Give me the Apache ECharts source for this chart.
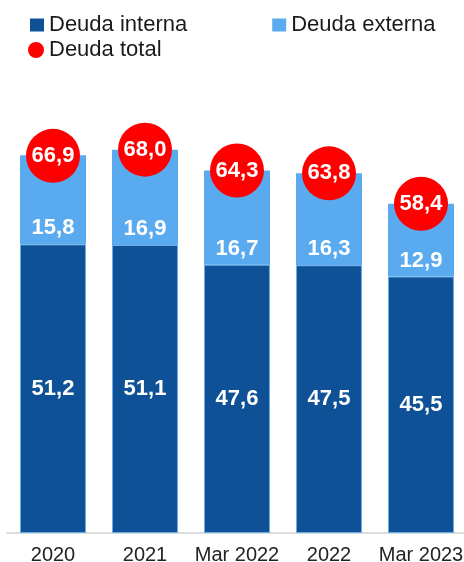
<!DOCTYPE html>
<html>
<head>
<meta charset="utf-8">
<script src="https://cdn.jsdelivr.net/npm/echarts@6/dist/echarts.min.js"></script>
<style>
  html, body { margin: 0; padding: 0; background: #fff; }
  #chart { width: 464px; height: 562px; }
</style>
</head>
<body>
<div id="chart"></div>
<script>
// Debt composition by period (stacked), with total on top
const categories = ['2020', '2021', 'Mar 2022', '2022', 'Mar 2023'];
const deudaInterna = [51.2, 51.1, 47.6, 47.5, 45.5];
const deudaExterna = [15.8, 16.9, 16.7, 16.3, 12.9];
const deudaTotal = [66.9, 68.0, 64.3, 63.8, 58.4];

const FONT = '"Liberation Sans", Arial, sans-serif';
const fmt = p => Number(p.value).toFixed(1).replace('.', ',');

const chart = echarts.init(document.getElementById('chart'), null, { renderer: 'canvas' });

const legendText = { fontFamily: FONT, fontSize: 22, color: '#1a1a1a' };

chart.setOption({
  animation: false,
  backgroundColor: '#ffffff',
  textStyle: { fontFamily: FONT },
  legend: [
    {
      left: 30, top: 14, padding: 0,
      itemWidth: 14, itemHeight: 13, itemGap: 85,
      itemStyle: { borderWidth: 0 },
      textStyle: legendText,
      data: [
        { name: 'Deuda interna', icon: 'rect' },
        { name: 'Deuda externa', icon: 'rect' }
      ]
    },
    {
      left: 28, top: 39, padding: 0,
      itemWidth: 16, itemHeight: 16,
      itemStyle: { borderWidth: 0 },
      textStyle: legendText,
      data: [{ name: 'Deuda total', icon: 'circle' }]
    }
  ],
  grid: {
    left: 7, right: -3, top: 82, bottom: 29,
    containLabel: false, outerBoundsMode: 'none'
  },
  xAxis: {
    type: 'category',
    data: categories,
    axisLine: { lineStyle: { color: '#dcdcdc', width: 2 } },
    axisTick: { show: false },
    axisLabel: {
      interval: 0, hideOverlap: false,
      fontFamily: FONT, fontSize: 20, color: '#222', margin: 12
    }
  },
  yAxis: {
    type: 'value', min: 0, max: 80, show: false,
    splitLine: { show: false }
  },
  series: [
    {
      name: 'Deuda interna',
      type: 'bar',
      stack: 'deuda',
      barWidth: 66,
      data: deudaInterna,
      itemStyle: { color: '#0e5196', borderColor: '#6aaee8', borderWidth: 1 },
      label: {
        show: true, position: 'inside', formatter: fmt,
        fontFamily: FONT, fontSize: 22, fontWeight: 'bold', color: '#ffffff'
      }
    },
    {
      name: 'Deuda externa',
      type: 'bar',
      stack: 'deuda',
      barWidth: 66,
      data: deudaExterna,
      itemStyle: { color: '#5aaaf0' },
      label: {
        show: true, position: 'insideBottom', distance: 5, formatter: fmt,
        fontFamily: FONT, fontSize: 22, fontWeight: 'bold', color: '#ffffff'
      }
    },
    {
      name: 'Deuda total',
      type: 'scatter',
      symbol: 'circle',
      symbolSize: 54,
      z: 5,
      data: deudaTotal,
      itemStyle: { color: '#fe0000', opacity: 1 },
      label: {
        show: true, position: 'inside', formatter: fmt,
        fontFamily: FONT, fontSize: 22, fontWeight: 'bold', color: '#ffffff'
      }
    }
  ]
});
</script>
</body>
</html>
